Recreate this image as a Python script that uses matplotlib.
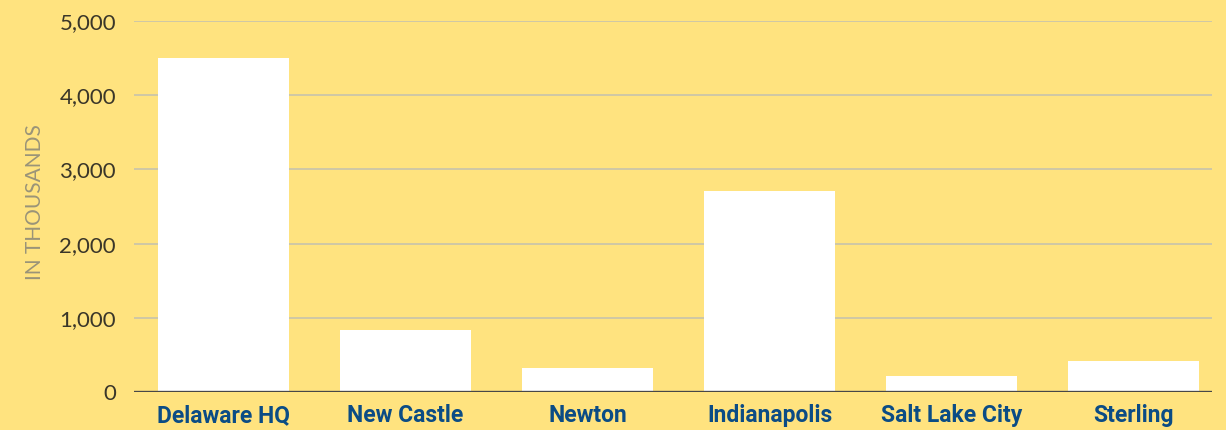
import matplotlib
matplotlib.use("Agg")
import matplotlib.pyplot as plt
from matplotlib.ticker import FuncFormatter

# values in thousands
sites = ["Delaware HQ", "New Castle", "Newton", "Indianapolis", "Salt Lake City", "Sterling"]
values = [4500, 835, 325, 2710, 215, 420]
y_ticks = [0, 1000, 2000, 3000, 4000, 5000]

bg = "#FFE37F"
navy = "#0B4C85"

fig = plt.figure(figsize=(12.26, 4.3), dpi=100, facecolor=bg)
ax = fig.add_axes([0.1093, 0.0884, 0.8793, 0.8626], facecolor=bg)

x = list(range(len(sites)))
ax.bar(x, values, width=0.72, color="white", zorder=3)

ax.set_ylim(0, 5000)
ax.set_xlim(-0.49, 5.43)
ax.set_yticks(y_ticks)
ax.yaxis.set_major_formatter(FuncFormatter(lambda v, p: f"{int(v):,}"))
ax.grid(axis="y", color="#C2C0B0", linewidth=1.1, zorder=1)
ax.axhline(0, color="#474747", linewidth=2.4, zorder=4)

for s in ax.spines.values():
    s.set_visible(False)
ax.tick_params(axis="both", length=0)
ax.tick_params(axis="y", pad=13)
ax.tick_params(axis="x", pad=9)

ax.set_yticklabels([f"{v:,}" for v in y_ticks], fontfamily="Lato", fontsize=16, color="#3A3629")
ax.set_xticks(x)
ax.set_xticklabels(sites, fontfamily="Roboto", fontweight="bold", fontsize=16.5, color=navy)

fig.text(0.0285, 0.53, "IN THOUSANDS", rotation=90, ha="center", va="center",
         fontfamily="Lato", fontsize=15, color="#9A9478")

fig.savefig("out.png", dpi=100, facecolor=bg)
